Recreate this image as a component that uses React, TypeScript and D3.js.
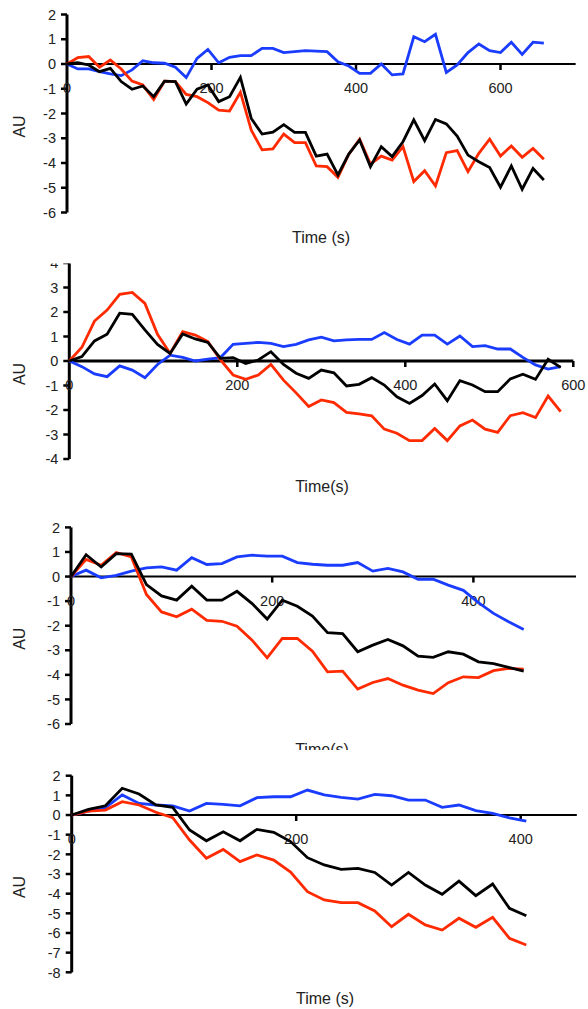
import React from "react";
import * as d3 from "d3";

// Sample times (s), one reading every 15 s
const times = [
  0, 15, 30, 45, 60, 75, 90, 105, 120, 135, 150, 165, 180, 195, 210, 225, 240,
  255, 270, 285, 300, 315, 330, 345, 360, 375, 390, 405, 420, 435, 450, 465,
  480, 495, 510, 525, 540, 555, 570, 585, 600, 615, 630, 645, 660,
];

// Panel A
const aBlack = [0, 0.05, -0.04, -0.31, -0.18, -0.71, -1.02, -0.89, -1.32, -0.69, -0.71, -1.62, -1.02, -0.85, -1.52, -1.32, -0.54, -2.2, -2.83, -2.75, -2.45, -2.76, -2.76, -3.72, -3.64, -4.48, -3.64, -3.07, -4.15, -3.34, -3.74, -3.14, -2.26, -3.1, -2.24, -2.42, -2.91, -3.68, -3.95, -4.18, -4.98, -4.12, -5.06, -4.22, -4.69];
const aRed = [0, 0.26, 0.3, -0.13, 0.16, -0.2, -0.69, -0.85, -1.43, -0.69, -0.71, -1.23, -1.32, -1.56, -1.86, -1.9, -1.14, -2.67, -3.47, -3.43, -2.83, -3.18, -3.18, -4.12, -4.15, -4.58, -3.64, -3.04, -4.04, -3.72, -3.88, -3.34, -4.75, -4.31, -4.93, -3.58, -3.5, -4.35, -3.61, -3.04, -3.72, -3.31, -3.77, -3.41, -3.85];
const aBlue = [0, -0.2, -0.2, -0.31, -0.4, -0.47, -0.24, 0.13, 0.05, 0.03, -0.13, -0.55, 0.23, 0.59, 0.05, 0.27, 0.34, 0.34, 0.63, 0.63, 0.46, 0.5, 0.54, 0.52, 0.5, 0.09, -0.08, -0.38, -0.38, 0, -0.44, -0.4, 1.1, 0.9, 1.2, -0.34, -0.04, 0.46, 0.81, 0.54, 0.46, 0.88, 0.39, 0.88, 0.84];

// Panel B
const bBlack = [0, 0.18, 0.82, 1.09, 1.95, 1.9, 1.27, 0.68, 0.31, 1.1, 0.9, 0.76, 0.11, 0.14, -0.1, 0.04, 0.38, -0.14, -0.5, -0.71, -0.37, -0.48, -1.02, -0.95, -0.68, -0.98, -1.46, -1.73, -1.41, -0.94, -1.62, -0.8, -0.98, -1.25, -1.25, -0.73, -0.54, -0.75, 0.07, -0.26];
const bRed = [0, 0.56, 1.63, 2.08, 2.72, 2.8, 2.35, 1.09, 0.31, 1.2, 1.06, 0.79, 0.04, -0.57, -0.75, -0.57, -0.14, -0.78, -1.3, -1.86, -1.59, -1.7, -2.1, -2.16, -2.24, -2.78, -2.95, -3.25, -3.25, -2.75, -3.25, -2.65, -2.41, -2.78, -2.91, -2.23, -2.11, -2.31, -1.43, -2.07];
const bBlue = [0, -0.23, -0.53, -0.64, -0.2, -0.37, -0.68, -0.14, 0.24, 0.15, 0, 0.08, 0.14, 0.68, 0.72, 0.76, 0.72, 0.59, 0.68, 0.86, 0.97, 0.82, 0.86, 0.88, 0.88, 1.16, 0.88, 0.69, 1.06, 1.06, 0.69, 1.02, 0.59, 0.63, 0.49, 0.49, 0.15, -0.16, -0.33, -0.23];

// Panel C
const cBlack = [0, 0.89, 0.39, 0.93, 0.91, -0.33, -0.79, -0.96, -0.39, -0.96, -0.96, -0.6, -1.1, -1.73, -0.96, -1.21, -1.61, -2.28, -2.32, -3.06, -2.79, -2.56, -2.82, -3.24, -3.29, -3.06, -3.16, -3.47, -3.54, -3.7, -3.85];
const cRed = [0, 0.7, 0.46, 0.98, 0.8, -0.73, -1.44, -1.64, -1.33, -1.78, -1.82, -2.02, -2.59, -3.31, -2.52, -2.52, -3.04, -3.88, -3.85, -4.58, -4.31, -4.15, -4.42, -4.62, -4.76, -4.32, -4.08, -4.11, -3.83, -3.74, -3.77];
const cBlue = [0, 0.26, -0.05, 0.05, 0.22, 0.35, 0.39, 0.26, 0.77, 0.49, 0.53, 0.8, 0.87, 0.83, 0.83, 0.57, 0.5, 0.46, 0.46, 0.57, 0.22, 0.33, 0.19, -0.11, -0.11, -0.35, -0.56, -1.06, -1.5, -1.84, -2.15];

// Panel D
const dBlack = [0, 0.29, 0.47, 1.36, 1.07, 0.51, 0.39, -0.76, -1.31, -0.85, -1.31, -0.73, -0.88, -1.35, -2.17, -2.54, -2.76, -2.71, -2.92, -3.56, -2.92, -3.56, -4.03, -3.36, -4.1, -3.51, -4.75, -5.12];
const dRed = [0, 0.2, 0.25, 0.68, 0.51, 0.14, -0.14, -1.27, -2.2, -1.75, -2.37, -2.03, -2.29, -2.9, -3.9, -4.32, -4.46, -4.46, -4.88, -5.68, -5.05, -5.59, -5.85, -5.25, -5.71, -5.2, -6.27, -6.61];
const dBlue = [0, 0.2, 0.37, 1.02, 0.59, 0.51, 0.46, 0.2, 0.59, 0.54, 0.47, 0.88, 0.93, 0.93, 1.27, 1.02, 0.9, 0.81, 1.05, 0.98, 0.76, 0.76, 0.39, 0.51, 0.22, 0.08, -0.14, -0.31];

// Axis ticks
const aXTicks = [0, 200, 400, 600];
const aYTicks = [2, 1, 0, -1, -2, -3, -4, -5, -6];
const bXTicks = [0, 200, 400, 600];
const bYTicks = [4, 3, 2, 1, 0, -1, -2, -3, -4];
const cXTicks = [0, 200, 400];
const cYTicks = [2, 1, 0, -1, -2, -3, -4, -5, -6];
const dXTicks = [0, 200, 400];
const dYTicks = [2, 1, 0, -1, -2, -3, -4, -5, -6, -7, -8];

const xTitles = ["Time (s)", "Time(s)", "Time(s)", "Time (s)"];

const RED = "#ff2a00";
const BLUE = "#1a3cff";
const BLACK = "#000000";

type Panel = {
  id: string;
  series: { values: number[]; color: string }[];
  xTicks: number[];
  yTicks: number[];
  xTitle: string;
  // geometry
  x0: number; x200: number; xAxisEnd: number;
  yTop: number; yBottom: number; yMax: number; yMin: number;
  xAxisWidth: number;
  clipTop: number; clipBottom: number;
  xTitleX: number; xTitleY: number;
};

const panels: Panel[] = [
  {
    id: "a",
    series: [
      { values: aBlue, color: BLUE },
      { values: aRed, color: RED },
      { values: aBlack, color: BLACK },
    ],
    xTicks: aXTicks, yTicks: aYTicks, xTitle: xTitles[0],
    x0: 67, x200: 211.5, xAxisEnd: 704,
    yTop: 14.5, yBottom: 212.5, yMax: 2, yMin: -6,
    xAxisWidth: 2,
    clipTop: 0, clipBottom: 250,
    xTitleX: 321, xTitleY: 243,
  },
  {
    id: "b",
    series: [
      { values: bBlue, color: BLUE },
      { values: bRed, color: RED },
      { values: bBlack, color: BLACK },
    ],
    xTicks: bXTicks, yTicks: bYTicks, xTitle: xTitles[1],
    x0: 69.3, x200: 237.3, xAxisEnd: 600,
    yTop: 263, yBottom: 459, yMax: 4, yMin: -4,
    xAxisWidth: 3,
    clipTop: 263.5, clipBottom: 500,
    xTitleX: 322, xTitleY: 492,
  },
  {
    id: "c",
    series: [
      { values: cBlue, color: BLUE },
      { values: cRed, color: RED },
      { values: cBlack, color: BLACK },
    ],
    xTicks: cXTicks, yTicks: cYTicks, xTitle: xTitles[2],
    x0: 71, x200: 272.2, xAxisEnd: 502,
    yTop: 527.4, yBottom: 724, yMax: 2, yMin: -6,
    xAxisWidth: 2,
    clipTop: 505, clipBottom: 750,
    xTitleX: 322, xTitleY: 755,
  },
  {
    id: "d",
    series: [
      { values: dBlue, color: BLUE },
      { values: dRed, color: RED },
      { values: dBlack, color: BLACK },
    ],
    xTicks: dXTicks, yTicks: dYTicks, xTitle: xTitles[3],
    x0: 71.7, x200: 296.2, xAxisEnd: 450,
    yTop: 775.7, yBottom: 972.3, yMax: 2, yMin: -8,
    xAxisWidth: 2,
    clipTop: 755, clipBottom: 1009,
    xTitleX: 325, xTitleY: 1004,
  },
];

const FONT = "'Liberation Sans', Arial, sans-serif";

function PanelView({ p }: { p: Panel }) {
  const x = d3.scaleLinear().domain([0, 200]).range([p.x0, p.x200]);
  const y = d3.scaleLinear().domain([p.yMin, p.yMax]).range([p.yBottom, p.yTop]);
  const line = d3
    .line<[number, number]>()
    .x((d) => x(d[0]))
    .y((d) => y(d[1]))
    .curve(d3.curveLinear);
  const zeroY = y(0);
  const clipId = `clip-${p.id}`;

  return (
    <g>
      <defs>
        <clipPath id={clipId}>
          <rect x={0} y={p.clipTop} width={588} height={p.clipBottom - p.clipTop} />
        </clipPath>
      </defs>
      <g clipPath={`url(#${clipId})`}>
        {/* y axis */}
        <line x1={p.x0} x2={p.x0} y1={p.yTop} y2={p.yBottom} stroke="#000" strokeWidth={3} />
        {p.yTicks.map((t) => (
          <g key={`yt${t}`}>
            <line x1={p.x0 - 6} x2={p.x0} y1={y(t)} y2={y(t)} stroke="#000" strokeWidth={2.5} />
            <text
              x={p.x0 - 11}
              y={y(t)}
              dy="0.36em"
              textAnchor="end"
              fontFamily={FONT}
              fontSize={14.5}
              fill="#222"
            >
              {t}
            </text>
          </g>
        ))}
        {/* x axis through zero */}
        <line
          x1={p.x0}
          x2={x(p.xAxisEnd)}
          y1={zeroY}
          y2={zeroY}
          stroke="#000"
          strokeWidth={p.xAxisWidth}
        />
        {p.xTicks.map((t) => (
          <g key={`xt${t}`}>
            {t > 0 && (
              <line x1={x(t)} x2={x(t)} y1={zeroY} y2={zeroY + 6} stroke="#000" strokeWidth={2.5} />
            )}
            <text
              x={x(t)}
              y={zeroY + 24}
              dy="0.36em"
              textAnchor="middle"
              fontFamily={FONT}
              fontSize={14.5}
              fill="#222"
            >
              {t}
            </text>
          </g>
        ))}
        {/* data */}
        {p.series.map((s, i) => (
          <path
            key={i}
            d={line(s.values.map((v, k) => [times[k], v] as [number, number])) || ""}
            fill="none"
            stroke={s.color}
            strokeWidth={2.8}
            strokeLinejoin="miter"
          />
        ))}
        {/* titles */}
        <text
          transform={`translate(${25},${(p.yTop + p.yBottom) / 2 + 13}) rotate(-90)`}
          textAnchor="middle"
          fontFamily={FONT}
          fontSize={16}
          fill="#222"
        >
          AU
        </text>
        <text
          x={p.xTitleX}
          y={p.xTitleY}
          textAnchor="middle"
          fontFamily={FONT}
          fontSize={16}
          fill="#222"
        >
          {p.xTitle}
        </text>
      </g>
    </g>
  );
}

export default function App() {
  return (
    <svg
      width={588}
      height={1009}
      viewBox="0 0 588 1009"
      style={{ position: "absolute", left: 0, top: 0, background: "#fff" }}
    >
      <rect x={0} y={0} width={588} height={1009} fill="#fff" />
      {panels.map((p) => (
        <PanelView key={p.id} p={p} />
      ))}
    </svg>
  );
}
